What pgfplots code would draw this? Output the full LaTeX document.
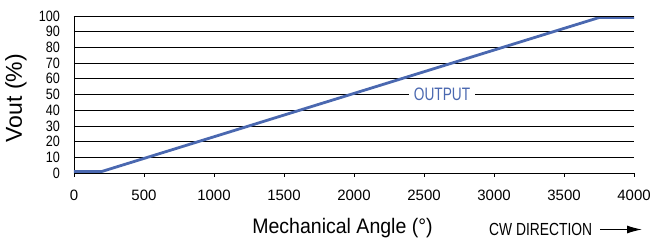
\documentclass[border=0pt]{standalone}
\usepackage{fontspec}
\setmainfont{Liberation Sans}
\newfontfamily\fyt{Liberation Sans}[FakeStretch=0.84]
\newfontfamily\fxl{Liberation Sans}[FakeStretch=0.93]
\newfontfamily\fout{Liberation Sans}[FakeStretch=0.76]
\newfontfamily\fcw{Liberation Sans}[FakeStretch=0.79]
\usepackage{pgfplots}
\pgfplotsset{compat=1.18}
\usetikzlibrary{arrows.meta}
\definecolor{outblue}{HTML}{4A68B0}
\begin{document}
\begin{tikzpicture}
\begin{axis}[
  scale only axis, width=560pt, height=157pt,
  xmin=0, xmax=4000, ymin=0, ymax=100,
  xtick={0,500,...,4000}, ytick={0,10,...,100},
  axis x line*=bottom, axis y line*=left,
  axis line style={black, line width=0.9pt},
  ymajorgrids, grid style={black, line width=0.7pt},
  xtick style={black, line width=0.8pt}, tick align=outside,
  major tick length=4pt,
  ytick style={draw=none},
  /pgf/number format/assume math mode=true,
  scaled ticks=false, xticklabel style={/pgf/number format/1000 sep={}},
  yticklabel style={font=\fyt\fontsize{15}{15}\selectfont, anchor=east, inner sep=0pt, xshift=-10pt},
  xticklabel style={font=\fontsize{15}{15}\selectfont, anchor=center, inner sep=0pt, yshift=-18pt},
  clip=false,
]
\addplot[outblue, line width=2.8pt, line join=round] coordinates {(0,1) (200,1) (3750,99) (4000,99)};
\draw[black, line width=0.7pt] (axis cs:0,100) -- (axis cs:4000,100);
\node[fill=white, text=outblue, inner xsep=5pt, inner ysep=1pt, font=\fout\fontsize{18}{18}\selectfont] at (axis cs:2629,50) {OUTPUT};
\end{axis}
\node[font=\fontsize{23}{24}\selectfont, rotate=90, anchor=center, inner sep=0pt] at (-58pt,75pt) {Vout (\%)};
\node[font=\fxl\fontsize{21}{22}\selectfont, inner sep=0pt] at (268.5pt,-55pt) {Mechanical Angle (°)};
\node[font=\fcw\fontsize{17.5}{18}\selectfont, anchor=west, inner sep=0pt] at (415pt,-56pt) {CW DIRECTION};
\draw[black, line width=1.2pt, -{Latex[length=15pt,width=8pt]}] (526pt,-56.5pt) -- (568pt,-56.5pt);
\useasboundingbox (-74pt,-67pt) rectangle (578pt,173pt);
\end{tikzpicture}
\end{document}
